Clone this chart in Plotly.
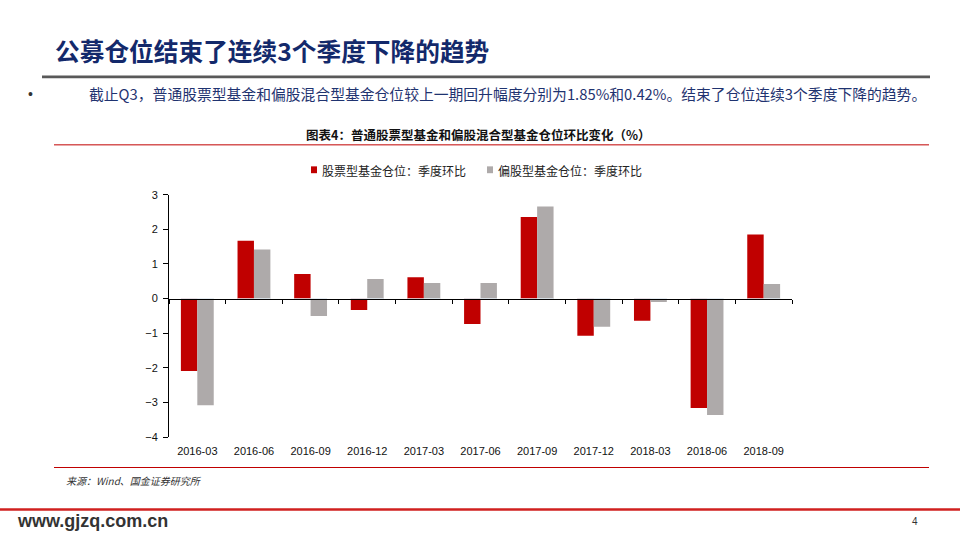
import plotly.graph_objects as go

categories = ["2016-03", "2016-06", "2016-09", "2016-12", "2017-03", "2017-06",
              "2017-09", "2017-12", "2018-03", "2018-06", "2018-09"]
stock_fund = [-2.09, 1.67, 0.71, -0.33, 0.62, -0.73, 2.36, -1.07, -0.64, -3.16, 1.85]
mixed_fund = [-3.08, 1.42, -0.50, 0.57, 0.45, 0.45, 2.66, -0.81, -0.10, -3.36, 0.42]
series_names = ["股票型基金仓位：季度环比", "偏股型基金仓位：季度环比"]
series_colors = ["#C00000", "#AEAAAA"]
y_ticks = [-4, -3, -2, -1, 0, 1, 2, 3]

W, H = 960, 540
CJK = "Noto Sans CJK SC"
NAVY = "#13296B"

# plot area in pixels
px0, px1 = 169, 792
py_top, py_bot = 193, 441
ymin, ymax = -4, 3

def fx(p):
    return p / W

def fy(p):
    return 1 - p / H

fig = go.Figure()
for name, vals, col in zip(series_names, [stock_fund, mixed_fund], series_colors):
    fig.add_trace(go.Bar(x=categories, y=vals, name=name,
                         marker=dict(color=col, line=dict(width=0))))
# invisible trace to activate overlay axis for zero-line ticks
fig.add_trace(go.Bar(x=categories, y=[0] * len(categories), xaxis="x2",
                     showlegend=False, hoverinfo="skip",
                     marker=dict(color="rgba(0,0,0,0)")))

zero_pos = fy(py_bot) + (fy(py_top) - fy(py_bot)) * (0 - ymin) / (ymax - ymin)

fig.update_layout(
    width=W, height=H,
    margin=dict(l=0, r=0, t=0, b=0),
    paper_bgcolor="white", plot_bgcolor="white",
    barmode="group", bargap=0.42, bargroupgap=0,
    showlegend=False,
    xaxis=dict(domain=[fx(px0), fx(px1)], anchor="y", type="category",
               showline=False, ticks="outside", ticklen=4, tickcolor="rgba(0,0,0,0)",
               showgrid=False, zeroline=False,
               tickfont=dict(family="Liberation Sans", size=11, color="#111")),
    xaxis2=dict(domain=[fx(px0), fx(px1)], overlaying="x", anchor="free",
                position=zero_pos, type="category", matches="x",
                showline=True, linecolor="black", linewidth=1,
                ticks="outside", ticklen=4, tickcolor="black", tickson="boundaries",
                showticklabels=False, showgrid=False, zeroline=False),
    yaxis=dict(domain=[fy(py_bot), fy(py_top)], range=[ymin, ymax],
               tickvals=y_ticks, showline=True, linecolor="black", linewidth=1,
               ticks="outside", ticklen=5, tickcolor="black", ticklabelstandoff=3,
               showgrid=False, zeroline=False,
               tickfont=dict(family="Liberation Sans", size=11, color="#111")),
    font=dict(family=CJK),
)

shapes = [
    dict(type="rect", xref="paper", yref="paper", x0=fx(42), x1=fx(930),
         y0=fy(74), y1=fy(71), fillcolor="#595959", line=dict(width=0), layer="above"),
    dict(type="line", xref="paper", yref="paper", x0=fx(54), x1=fx(929),
         y0=fy(142), y1=fy(142), line=dict(color="#C00000", width=1)),
    dict(type="line", xref="paper", yref="paper", x0=fx(54), x1=fx(929),
         y0=fy(472), y1=fy(472), line=dict(color="#C00000", width=1)),
    dict(type="line", xref="paper", yref="paper", x0=0, x1=1,
         y0=fy(515), y1=fy(515), line=dict(color="#D0201F", width=2.5)),
]
# custom legend squares
legend_x = [311, 487]
for lx, col in zip(legend_x, series_colors):
    shapes.append(dict(type="rect", xref="paper", yref="paper",
                       x0=fx(lx), x1=fx(lx + 6), y0=fy(171), y1=fy(164),
                       fillcolor=col, line=dict(width=0)))
fig.update_layout(shapes=shapes)

ann = [
    dict(text="<b>公募仓位结束了连续3个季度下降的趋势</b>", x=fx(53), y=fy(45),
         xanchor="left", yanchor="middle", font=dict(family=CJK, size=24.7, color=NAVY)),
    dict(text="•", x=fx(26), y=fy(90), xanchor="left", yanchor="middle",
         font=dict(family="Liberation Sans", size=14, color="#333")),
    dict(text="截止Q3，普通股票型基金和偏股混合型基金仓位较上一期回升幅度分别为1.85%和0.42%。结束了仓位连续3个季度下降的趋势。",
         x=fx(87), y=fy(90), xanchor="left", yanchor="middle",
         font=dict(family=CJK, size=14.8, color="#1F3370")),
    dict(text="<b>图表4：普通股票型基金和偏股混合型基金仓位环比变化（%）</b>", x=fx(478), y=fy(131),
         xanchor="center", yanchor="middle", font=dict(family=CJK, size=12.5, color="#111")),
    dict(text="<i>来源：Wind、国金证券研究所</i>", x=fx(64), y=fy(485),
         xanchor="left", yanchor="middle", font=dict(family=CJK, size=10, color="#333")),
    dict(text="<b>www.gjzq.com.cn</b>", x=fx(15), y=fy(527),
         xanchor="left", yanchor="middle", font=dict(family="Liberation Sans", size=18, color="#333")),
    dict(text="4", x=fx(915), y=fy(527), xanchor="center", yanchor="middle",
         font=dict(family="Liberation Sans", size=10, color="#333")),
]
for lx, name in zip(legend_x, series_names):
    ann.append(dict(text=name, x=fx(lx + 9), y=fy(168), xanchor="left", yanchor="middle",
                    font=dict(family=CJK, size=12, color="#222")))
for a in ann:
    a.update(xref="paper", yref="paper", showarrow=False)
fig.update_layout(annotations=ann)

fig.write_html(
    "out.html",
    config={"displayModeBar": False},
    post_script=("document.documentElement.style.margin='0';"
                 "document.documentElement.style.overflow='hidden';"
                 "document.body.style.margin='0';"
                 "document.body.style.overflow='hidden';"),
)
